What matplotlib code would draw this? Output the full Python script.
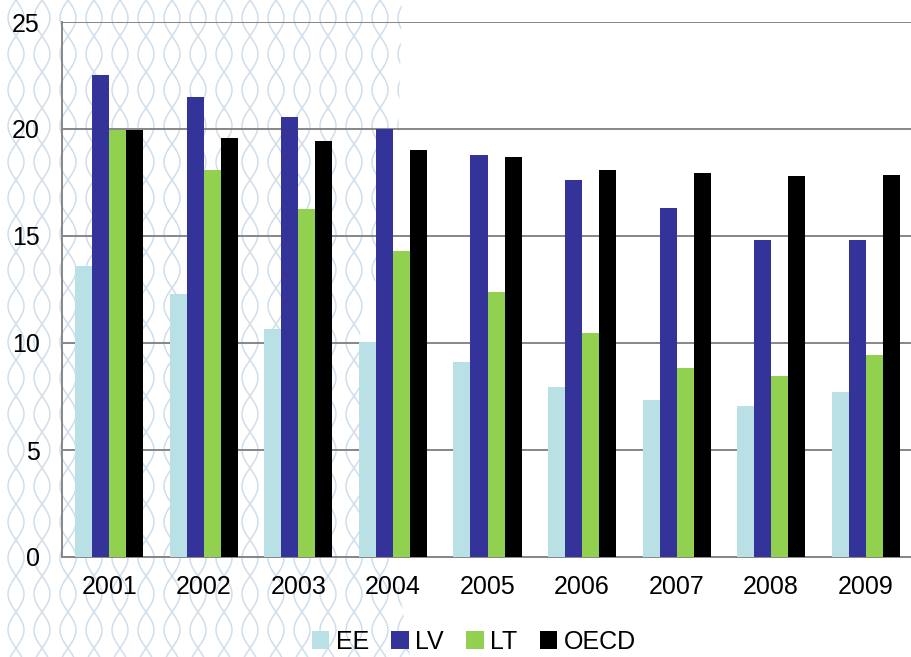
import numpy as np
import matplotlib
matplotlib.use('Agg')
import matplotlib.pyplot as plt
from matplotlib.patches import Polygon

plt.rcParams['font.family'] = ['Liberation Sans', 'DejaVu Sans']

years = ['2001', '2002', '2003', '2004', '2005', '2006', '2007', '2008', '2009']
EE = [13.6, 12.3, 10.65, 10.05, 9.1, 7.95, 7.35, 7.05, 7.7]
LV = [22.5, 21.5, 20.55, 20.0, 18.8, 17.6, 16.3, 14.8, 14.8]
LT = [19.95, 18.1, 16.25, 14.3, 12.4, 10.45, 8.85, 8.45, 9.45]
OECD = [19.95, 19.6, 19.45, 19.0, 18.7, 18.1, 17.95, 17.8, 17.85]

series = [('EE', EE, '#b9e0e4'), ('LV', LV, '#333399'),
          ('LT', LT, '#92d050'), ('OECD', OECD, '#000000')]

W, H = 911, 657
fig = plt.figure(figsize=(W / 100, H / 100), dpi=100)
fig.patch.set_facecolor('white')

# background wave pattern (left part of the slide)
bg = fig.add_axes([0, 0, 1, 1], zorder=0)
bg.set_xlim(0, W)
bg.set_ylim(H, 0)
bg.axis('off')
region = Polygon([(0, 0), (402, 0), (398, 150), (385, 250), (360, 330),
                  (365, 450), (395, 560), (410, H), (0, H)],
                 closed=True, facecolor='none', edgecolor='none')
bg.add_patch(region)
yy = np.linspace(0, H, 600)
for x0 in np.arange(-10, 430, 26):
    for ph in (0, np.pi):
        ln, = bg.plot(x0 + 8 * np.sin(2 * np.pi * yy / 72 + ph), yy,
                      color='#cfdeea', lw=1.1)
        ln.set_clip_path(region)

ax = fig.add_axes([62 / W, 1 - 557 / H, 851 / W, 535 / H], zorder=1)
ax.patch.set_alpha(0)

x = np.arange(len(years))
width = 0.18
for i, (name, vals, col) in enumerate(series):
    ax.bar(x + (i - 1.5) * width, vals, width, color=col, label=name, zorder=3)

ax.set_xlim(-0.5, len(years) - 0.5)
ax.set_ylim(0, 25)
ax.set_yticks([0, 5, 10, 15, 20, 25])
ax.set_xticks(x)
ax.set_xticklabels(years)
ax.yaxis.grid(True, color='#868686', lw=1.4, zorder=1)
ax.tick_params(axis='both', length=0, labelsize=18)
ax.tick_params(axis='y', pad=16)
ax.tick_params(axis='x', pad=13)
for s in ['top', 'right']:
    ax.spines[s].set_visible(False)
for s in ['left', 'bottom']:
    ax.spines[s].set_color('#868686')
    ax.spines[s].set_linewidth(1.4)

fig.legend(loc='lower center', bbox_to_anchor=(0.52, -0.014), ncol=4,
           frameon=False, fontsize=18, handlelength=0.7, handleheight=0.7,
           handletextpad=0.25, columnspacing=0.9, borderpad=0)

fig.savefig('out.png', dpi=100)
